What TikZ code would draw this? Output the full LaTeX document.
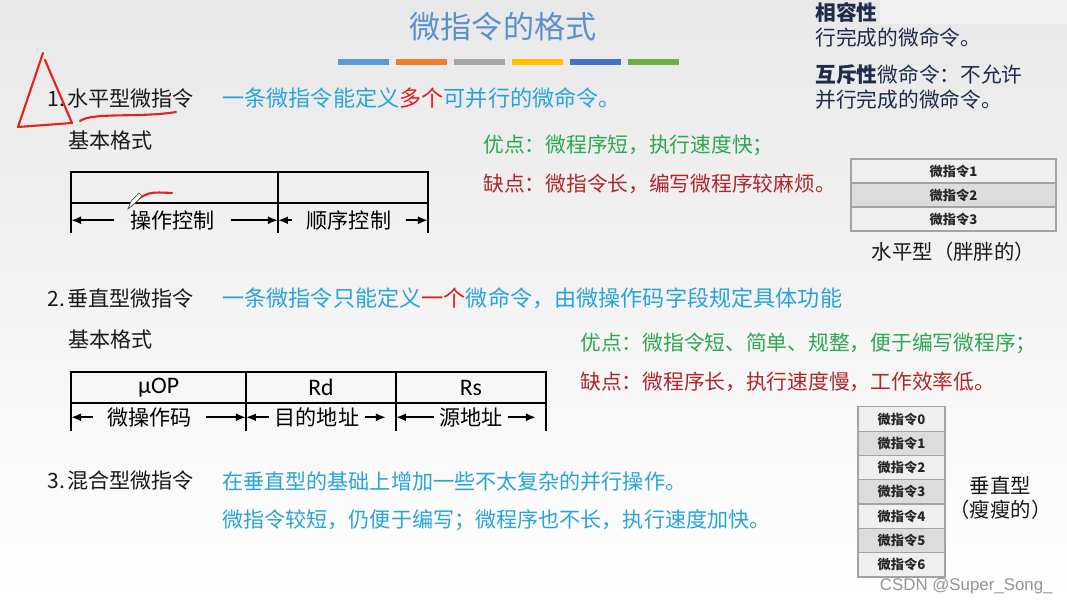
\documentclass[tikz,border=0pt]{standalone}
\usepackage{fontspec}
\setmainfont{Noto Sans CJK SC}
\newfontfamily\fieldfont{Carlito}
\newfontfamily\markfont{Liberation Sans}
\usetikzlibrary{arrows.meta,positioning,calc}
\definecolor{titleblue}{HTML}{5C90CC}
\definecolor{descblue}{HTML}{2AA3DC}
\definecolor{hotred}{HTML}{E01E1E}
\definecolor{meritgreen}{HTML}{2FA653}
\definecolor{flawred}{HTML}{B0262A}
\definecolor{notenavy}{HTML}{1E2C4A}
\definecolor{annotred}{HTML}{E5221D}
\definecolor{celllight}{HTML}{EFEFEF}
\definecolor{celldark}{HTML}{DCDCDC}
\definecolor{cellline}{HTML}{A3A3A3}
\definecolor{barblue}{HTML}{5B9BD5}
\definecolor{barorange}{HTML}{ED7D31}
\definecolor{bargray}{HTML}{A5A5A5}
\definecolor{bargold}{HTML}{FFC000}
\definecolor{barnavy}{HTML}{4472C4}
\definecolor{bargreen}{HTML}{70AD47}
\tikzset{
  heading/.style={
    anchor=west,
    inner sep=0pt,
    font=\fontsize{12}{14}\selectfont,
    text=black!90
  },
  desc/.style={
    anchor=west,
    inner sep=0pt,
    font=\fontsize{12.6}{15}\selectfont,
    text=descblue
  },
  merit/.style={
    desc,
    font=\fontsize{11.8}{14}\selectfont,
    text=meritgreen
  },
  flaw/.style={merit, text=flawred},
  note/.style={
    anchor=north west,
    inner sep=0pt,
    align=left,
    font=\fontsize{11.8}{14.2}\selectfont,
    text=notenavy
  },
  field/.style={
    draw=black,
    line width=1.3pt,
    outer sep=0pt,
    inner sep=0pt,
    minimum height=0.63cm,
    font=\fieldfont\fontsize{13.5}{15}\selectfont
  },
  span label/.style={
    inner xsep=7pt,
    inner ysep=0pt,
    font=\fontsize{12}{14}\selectfont
  },
  span/.style={
    -{Latex[length=2mm,width=1.6mm]},
    line width=1.1pt
  },
  tick/.style={line width=1.3pt},
  cell/.style={
    draw=cellline,
    line width=0.7pt,
    fill=celllight,
    inner sep=0pt,
    minimum height=0.48cm,
    font=\bfseries\fontsize{7.5}{9}\selectfont,
    text=black!85
  },
  darkcell/.style={cell, fill=celldark},
  caption/.style={
    inner sep=0pt,
    align=center,
    font=\fontsize{11.6}{13.8}\selectfont,
    text=black!90
  },
  stripe/.style={
    minimum width=1.02cm,
    minimum height=0.11cm,
    inner sep=0pt
  },
  annot/.style={
    draw=annotred,
    line width=1.2pt,
    line cap=round,
    line join=round
  }
}

\begin{document}
\begin{tikzpicture}[x=0.02cm, y=-0.02cm]

% ---------------------------------------------------------------------------
% Slide background
% ---------------------------------------------------------------------------
\shade[top color=black!9, middle color=black!5, bottom color=white]
  (0,0) rectangle (1067,605);
\useasboundingbox (0,0) rectangle (1067,605);
\fill[black!5] (880,0) rectangle (1067,24);

% ---------------------------------------------------------------------------
% Title and colour bars
% ---------------------------------------------------------------------------
\node[font=\fontsize{17.7}{20}\selectfont, text=titleblue, inner sep=0pt] (title) at (503,27) {微指令的格式};
\foreach \c [count=\i] in {barblue,barorange,bargray,bargold,barnavy,bargreen}
  \node[stripe, fill=\c] (bar\i) at ({363+58*(\i-1)},62) {};

% Notes in the top right corner.
\node[note] (compat) at (815,2) {{\bfseries 相容性}\\行完成的微命令。};
\node[note] (exclus) at (815,64) {{\bfseries 互斥性}微命令：不允许\\并行完成的微命令。};

% ---------------------------------------------------------------------------
% 1. Horizontal microinstruction
% ---------------------------------------------------------------------------
\node[heading] (h1) at (47,98) {1.\hspace{1.5pt}水平型微指令};
\node[desc] (d1) at (222,98) {一条微指令能定义{\color{hotred}多个}可并行的微命令。};
\node[heading] (fmt1) at (68,140) {基本格式};

\node[field, minimum width=4.14cm] (hop) at (174.5,187.5) {};
\node[field, minimum width=3.0cm, right=0pt of hop] (hseq) {};
\draw[tick] (hop.south west) -- +(0,30);
\draw[tick] (hop.south east) -- +(0,30);
\draw[tick] (hseq.south east) -- +(0,30);

\node[span label, inner xsep=9pt] (hopl) at ($(hop.south)+(-2,17)$) {操作控制};
\node[span label, inner xsep=8pt] (hseql) at ($(hseq.south)+(-4,17)$) {顺序控制};
\draw[span] (hopl.west) -- (hopl.west -| hop.west);
\draw[span] (hopl.east) -- (hopl.east -| hop.east);
\draw[span] (hseql.west) -- (hseql.west -| hseq.west);
\draw[span] (hseql.east) -- (hseql.east -| hseq.east);

\node[merit] (m1) at (483,145) {优点：微程序短，执行速度快；};
\node[flaw] (f1) at (483,184) {缺点：微指令长，编写微程序较麻烦。};

\foreach \i/\s in {1/cell,2/darkcell,3/cell}
  \node[\s, minimum width=4.1cm] (hc\i) at (953.5,{147+24*\i}) {微指令\i};
\node[caption, below=6pt of hc3] (hcap) {水平型（胖胖的）};

% Pen marks on the slide.
\draw[annot] (43,53) -- (18,127) -- (72,123) -- (45,60);
\draw[annot] (80,121) .. controls (92,112) and (140,118) .. (176,112);
\draw[annot] (138,199) .. controls (150,192) .. (172,193);
\draw[black!70, fill=white, line width=0.4pt]
  (128,209) -- (131,201) -- (139,193) -- (142,196) -- (134,204) -- cycle;

% ---------------------------------------------------------------------------
% 2. Vertical microinstruction
% ---------------------------------------------------------------------------
\node[heading] (h2) at (47,298) {2.\hspace{1.5pt}垂直型微指令};
\node[desc] (d2) at (222,298) {一条微指令只能定义{\color{hotred}一个}微命令，由微操作码字段规定具体功能};
\node[heading] (fmt2) at (68,339) {基本格式};

\node[field, minimum width=3.5cm] (vop) at (158.5,387.5) {μOP};
\node[field, minimum width=3.0cm, right=0pt of vop] (vrd) {Rd};
\node[field, minimum width=3.0cm, right=0pt of vrd] (vrs) {Rs};
\draw[tick] (vop.south west) -- +(0,28);
\draw[tick] (vop.south east) -- +(0,28);
\draw[tick] (vrd.south east) -- +(0,28);
\draw[tick] (vrs.south east) -- +(0,28);

\node[span label, inner xsep=8pt] (vopl) at ($(vop.south)+(-9,14)$) {微操作码};
\node[span label, inner xsep=3pt] (vrdl) at ($(vrd.south)+(-4,14)$) {目的地址};
\node[span label, inner xsep=3pt] (vrsl) at ($(vrs.south)+(0,14)$) {源地址};
\draw[span] (vopl.west) -- (vopl.west -| vop.west);
\draw[span] (vopl.east) -- (vopl.east -| vop.east);
\draw[span] (vrdl.west) -- (vrdl.west -| vrd.west);
\draw[span] (vrdl.east) -- ($(vrdl.east -| vrd.east)+(-10,0)$);
\draw[span] (vrsl.west) -- (vrsl.west -| vrs.west);
\draw[span] (vrsl.east) -- ($(vrsl.east -| vrs.east)+(-10,0)$);

\node[merit] (m2) at (580,343) {优点：微指令短、简单、规整，便于编写微程序；};
\node[flaw] (f2) at (580,382) {缺点：微程序长，执行速度慢，工作效率低。};

\foreach \i/\s in {0/cell,1/darkcell,2/cell,3/darkcell,4/cell,5/darkcell,6/cell}
  \node[\s, minimum width=1.74cm, minimum height=0.486cm] (vc\i) at (901.5,{419+24.3*\i}) {微指令\i};
\node[caption, right=2pt of vc3, yshift=-0.12cm] (vcap) {垂直型\\（瘦瘦的）};

% ---------------------------------------------------------------------------
% 3. Mixed microinstruction
% ---------------------------------------------------------------------------
\node[heading] (h3) at (47,480) {3.\hspace{1.5pt}混合型微指令};
\node[desc, font=\fontsize{12}{14}\selectfont] (d3a) at (222,482) {在垂直型的基础上增加一些不太复杂的并行操作。};
\node[desc, font=\fontsize{12}{14}\selectfont] (d3b) at (222,520) {微指令较短，仍便于编写；微程序也不长，执行速度加快。};

\node[anchor=east, inner sep=0pt, font=\markfont\fontsize{9.6}{11}\selectfont, text=black!42] (mark) at (1053,586) {CSDN @Super\_Song\_};

\end{tikzpicture}
\end{document}
